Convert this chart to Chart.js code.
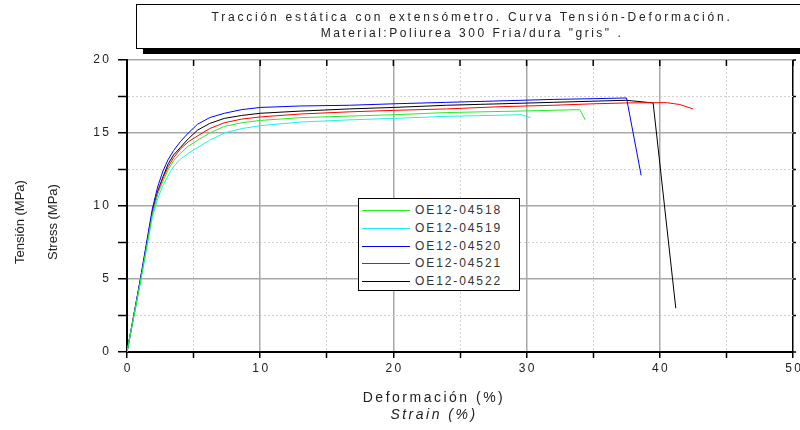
<!DOCTYPE html>
<html>
<head>
<meta charset="utf-8">
<script src="https://cdn.jsdelivr.net/npm/chart.js"></script>
<style>
  body { margin: 0; background: #fff; }
  #wrap { position: relative; width: 800px; height: 430px; overflow: hidden; font-family: "Liberation Sans", Arial, sans-serif; color: #222; }
  #chart { position: absolute; left: 0; top: 0; }
  #titleBox { position: absolute; left: 136px; top: 4px; width: 672px; height: 45px; box-sizing: border-box;
              border: 1px solid #000; background: #fff; box-shadow: 7px 5px 0 #000;
              text-align: center; font-size: 12px; line-height: 16px; padding-top: 4px; letter-spacing: 2.5px; }
  #titleBox .l1 { letter-spacing: 2.8px; }
  .ytitle { position: absolute; top: 222px; font-size: 13px; white-space: nowrap; transform: translate(-50%, -50%) rotate(-90deg); }
  #xtitle { position: absolute; left: 434px; top: 389px; transform: translateX(-50%); text-align: center;
            font-size: 14px; line-height: 17px; letter-spacing: 2.5px; white-space: nowrap; }
  #legend { position: absolute; left: 358px; top: 198px; width: 162px; height: 93px; box-sizing: border-box;
            border: 1px solid #000; background: #fff; }
  .ln { position: absolute; left: 3px; width: 48px; height: 1px; }
  .tx { position: absolute; left: 56px; height: 16px; line-height: 16px; font-size: 12px; letter-spacing: 1.9px; color: #333; white-space: nowrap; }
</style>
</head>
<body>
<div id="wrap">
  <canvas id="chart" width="800" height="430"></canvas>
  <div id="titleBox"><span class="l1">Tracción estática con extensómetro. Curva Tensión-Deformación.</span><br>Material:Poliurea 300 Fria/dura "gris" .</div>
  <div class="ytitle" style="left:19px">Tensión (MPa)</div>
  <div class="ytitle" style="left:52px">Stress (MPa)</div>
  <div id="xtitle">Deformación (%)<br><i>Strain (%)</i></div>
  <div id="legend"></div>
</div>
<script>
// Deformación (%) / Tensión (MPa) por probeta
const strain518 = [0, 1, 1.9, 2.3, 2.7, 3.1, 3.5, 4.0, 4.6, 5.3, 6.2, 7.3, 8.6, 10, 13, 16.7, 20, 24, 29.3, 34.0, 34.4];
const stress518 = [0, 4.8, 9.4, 10.8, 11.7, 12.5, 13.1, 13.6, 14.1, 14.5, 15.0, 15.45, 15.7, 15.86, 16.05, 16.16, 16.25, 16.4, 16.5, 16.6, 15.9];

const strain519 = [0, 1, 1.9, 2.3, 2.7, 3.1, 3.5, 4.0, 4.6, 5.3, 6.2, 7.3, 8.6, 10, 13, 16.7, 20, 24, 29.6, 30.3];
const stress519 = [0, 4.7, 9.2, 10.5, 11.4, 12.1, 12.7, 13.2, 13.6, 14.0, 14.5, 15.0, 15.3, 15.5, 15.75, 15.9, 16.0, 16.14, 16.25, 16.05];

const strain520 = [0, 1, 1.9, 2.3, 2.7, 3.1, 3.5, 4.0, 4.6, 5.3, 6.2, 7.3, 8.6, 10, 13, 16.7, 20, 24, 28, 32, 35, 37.5, 38.6];
const stress520 = [0, 5.0, 9.8, 11.3, 12.4, 13.2, 13.8, 14.4, 15.0, 15.6, 16.05, 16.35, 16.6, 16.75, 16.85, 16.9, 17.0, 17.1, 17.2, 17.3, 17.35, 17.4, 12.1];

const strain521 = [0, 1, 1.9, 2.3, 2.7, 3.1, 3.5, 4.0, 4.6, 5.3, 6.2, 7.3, 8.6, 10, 13, 16.7, 20, 24, 28, 32, 35, 37.5, 40.5, 41.5, 42.5];
const stress521 = [0, 4.8, 9.5, 10.9, 11.9, 12.7, 13.3, 13.9, 14.4, 14.8, 15.3, 15.7, 15.95, 16.1, 16.3, 16.45, 16.55, 16.65, 16.8, 16.9, 17.0, 17.06, 17.08, 16.95, 16.65];

const strain522 = [0, 1, 1.9, 2.3, 2.7, 3.1, 3.5, 4.0, 4.6, 5.3, 6.2, 7.3, 8.6, 10, 13, 16.7, 20, 24, 28, 32, 35, 37.5, 39.5, 41.2];
const stress522 = [0, 4.9, 9.6, 11.0, 12.0, 12.9, 13.5, 14.0, 14.6, 15.2, 15.65, 16.0, 16.2, 16.35, 16.5, 16.65, 16.75, 16.9, 17.0, 17.1, 17.18, 17.24, 17.06, 3.0];

const labels = ['OE12-04518', 'OE12-04519', 'OE12-04520', 'OE12-04521', 'OE12-04522'];
const colors = ['#22ee22', '#22eeee', '#0000ff', '#ff0000', '#000000'];
const xTicks = { min: 0, max: 50, step: 5, major: 10 };
const yTicks = { min: 0, max: 20, step: 2.5, major: 5 };

const series = [[strain518, stress518], [strain519, stress519], [strain520, stress520], [strain521, stress521], [strain522, stress522]];
const pts = (xs, ys) => xs.map((x, i) => ({ x: x, y: ys[i] }));
const spaced = v => String(v).split('').join('\u2009');
const font = { family: '"Liberation Sans", Arial, sans-serif', size: 12 };

const isMajor = (c, m) => c.tick && Math.abs(c.tick.value % m) < 1e-6;

// ticks hacia dentro en el borde superior y cortos a la derecha
const frameTicks = {
    id: 'frameTicks',
    afterDraw(chart) {
        const { ctx, chartArea: a, scales } = chart;
        ctx.save();
        ctx.strokeStyle = '#000';
        ctx.lineWidth = 1.5;
        ctx.beginPath();
        scales.x.ticks.forEach(t => {
            const px = scales.x.getPixelForValue(t.value);
            ctx.moveTo(px, a.top);
            ctx.lineTo(px, a.top + 6);
        });
        scales.y.ticks.forEach(t => {
            const py = scales.y.getPixelForValue(t.value);
            ctx.moveTo(a.right, py);
            ctx.lineTo(a.right + 3, py);
        });
        ctx.stroke();
        ctx.restore();
    }
};

const chart = new Chart(document.getElementById('chart').getContext('2d'), {
    type: 'line',
    data: {
        datasets: series.map((s, i) => ({
            label: labels[i],
            data: pts(s[0], s[1]),
            borderColor: colors[i],
            borderWidth: 1,
            pointRadius: 0,
            tension: 0,
            fill: false
        }))
    },
    options: {
        responsive: false,
        animation: false,
        layout: { padding: { left: 0, right: 7, top: 60, bottom: 48 } },
        plugins: { legend: { display: false }, tooltip: { enabled: false } },
        scales: {
            x: {
                type: 'linear', min: xTicks.min, max: xTicks.max,
                afterFit: s => { s.height = 30; s.paddingRight = 0; s.paddingLeft = 0; },
                ticks: {
                    stepSize: xTicks.step, autoSkip: false, maxRotation: 0, padding: 3, color: '#222', font: font,
                    callback: v => (v % xTicks.major === 0 ? spaced(v) : '')
                },
                grid: {
                    color: c => (c.tick && c.tick.value === xTicks.max ? '#000' : isMajor(c, xTicks.major) ? '#a8a8a8' : '#d2d2d2'),
                    lineWidth: c => (isMajor(c, xTicks.major) ? 1.5 : 1),
                    tickColor: '#000', tickLength: 6, tickWidth: 1.5
                },
                border: { color: '#000', width: 2, dash: c => (c.tick && !isMajor(c, xTicks.major) ? [2, 2] : []) }
            },
            y: {
                type: 'linear', min: yTicks.min, max: yTicks.max,
                afterFit: s => { s.width = 127; },
                ticks: {
                    stepSize: yTicks.step, autoSkip: false, padding: 9, color: '#222', font: font,
                    callback: v => (v % yTicks.major === 0 ? spaced(v) : '')
                },
                grid: {
                    color: c => (isMajor(c, yTicks.major) ? '#a8a8a8' : '#d2d2d2'),
                    lineWidth: c => (isMajor(c, yTicks.major) ? 1.5 : 1),
                    tickColor: '#000', tickLength: 9, tickWidth: 1.5
                },
                border: { color: '#000', width: 2, dash: c => (c.tick && !isMajor(c, yTicks.major) ? [2, 2] : []) }
            }
        }
    },
    plugins: [frameTicks]
});

// leyenda en HTML, generada a partir de los datasets
const legend = document.getElementById('legend');
chart.data.datasets.forEach((ds, i) => {
    const mid = Math.round(11 + i * 17.8);
    const ln = document.createElement('span');
    ln.className = 'ln';
    ln.style.top = mid + 'px';
    ln.style.background = ds.borderColor;
    const tx = document.createElement('span');
    tx.className = 'tx';
    tx.style.top = (mid - 8) + 'px';
    tx.textContent = ds.label;
    legend.appendChild(ln);
    legend.appendChild(tx);
});
</script>
</body>
</html>
